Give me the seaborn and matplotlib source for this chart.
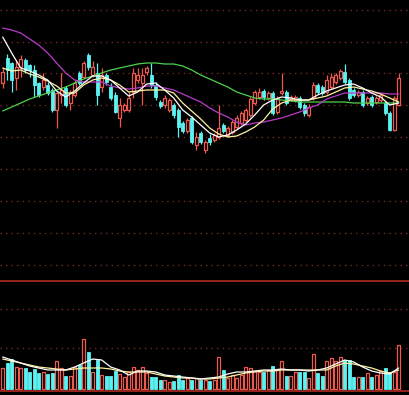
import numpy as np
import pandas as pd
import matplotlib
matplotlib.use("Agg")
import matplotlib.pyplot as plt
import seaborn as sns

# ---------------- data ----------------
opens = [21.7, 24.2, 23.7, 22.2, 23.3, 24.0, 23.5, 23.0, 21.7, 21.3,
         21.5, 21.0, 19.0, 20.5, 21.2, 19.7, 20.5, 22.7, 22.3, 24.5,
         22.5, 22.7, 21.3, 22.5, 21.3, 20.5, 18.2, 19.0, 19.0, 20.8,
         22.0, 21.7, 22.8, 22.5, 21.5, 19.8, 19.5, 19.0, 19.5, 19.0,
         17.7, 16.9, 18.2, 15.5, 16.7, 15.0, 16.2, 16.0, 16.3, 17.5,
         16.5, 16.8, 17.3, 17.7, 18.0, 18.5, 19.7, 20.3, 20.9, 20.2,
         20.7, 18.8, 20.7, 20.8, 20.1, 20.0, 20.2, 19.5, 18.5, 20.2,
         21.5, 21.3, 20.8, 21.3, 21.8, 22.2, 22.8, 22.0, 21.0, 20.5,
         20.8, 19.7, 20.3, 19.8, 20.0, 19.7, 18.7, 17.0, 19.5]
closes = [22.8, 23.0, 22.0, 23.3, 24.1, 23.0, 23.0, 21.5, 20.5, 22.0,
          20.7, 19.0, 20.7, 21.0, 19.5, 20.8, 21.7, 21.7, 23.7, 23.3,
          23.3, 20.5, 22.5, 21.8, 20.2, 18.8, 19.5, 19.5, 20.2, 22.7,
          22.5, 22.5, 23.2, 21.5, 20.3, 19.4, 20.2, 20.0, 18.5, 17.3,
          16.9, 18.0, 15.8, 16.3, 15.8, 15.8, 15.8, 16.5, 17.2, 16.9,
          17.2, 17.8, 18.2, 18.7, 19.0, 20.1, 20.8, 20.8, 20.3, 20.7,
          18.7, 20.2, 20.9, 19.7, 20.3, 20.3, 19.3, 18.7, 19.3, 21.5,
          20.8, 20.7, 22.0, 22.3, 22.5, 22.9, 21.8, 20.2, 20.5, 20.8,
          19.5, 20.2, 19.5, 20.2, 20.5, 18.7, 17.0, 20.2, 22.2]
highs = [23.2, 24.6, 23.8, 24.0, 24.5, 24.2, 23.6, 23.5, 21.8, 22.7,
         21.8, 21.2, 20.8, 22.7, 21.4, 21.0, 22.0, 22.9, 23.9, 24.7,
         23.9, 23.7, 23.2, 22.7, 21.7, 20.8, 20.2, 19.7, 20.8, 23.2,
         23.2, 23.2, 23.4, 23.7, 21.8, 20.0, 20.5, 20.2, 19.7, 19.2,
         17.9, 18.2, 18.4, 16.8, 16.9, 16.0, 16.6, 16.7, 19.5, 17.7,
         17.4, 18.0, 18.5, 18.9, 19.2, 20.3, 21.0, 21.2, 21.1, 20.9,
         20.9, 20.4, 22.7, 21.0, 20.5, 20.5, 20.4, 19.7, 19.6, 21.8,
         21.7, 21.5, 22.5, 22.7, 22.7, 23.1, 23.6, 22.2, 21.2, 21.0,
         21.0, 20.4, 20.5, 20.4, 20.7, 19.9, 18.9, 20.4, 22.7]
lows = [21.2, 22.0, 20.8, 21.0, 22.3, 22.7, 22.3, 20.3, 20.3, 21.0,
        20.5, 18.8, 17.2, 19.7, 19.3, 19.0, 20.3, 21.5, 22.2, 23.0,
        22.3, 19.5, 20.8, 21.5, 20.0, 18.7, 17.3, 18.8, 18.8, 20.2,
        21.7, 19.5, 22.5, 21.2, 20.0, 19.2, 19.2, 18.8, 18.2, 16.3,
        16.7, 16.7, 15.6, 15.0, 15.6, 14.7, 15.5, 15.8, 16.1, 16.7,
        16.3, 16.6, 17.1, 17.5, 17.8, 18.3, 19.5, 20.1, 20.0, 20.0,
        18.5, 18.6, 20.5, 19.5, 19.9, 19.8, 19.1, 18.4, 18.3, 20.0,
        20.6, 20.5, 20.6, 21.1, 21.6, 22.0, 21.6, 20.0, 20.3, 20.3,
        19.3, 19.5, 19.3, 19.6, 19.8, 18.5, 16.9, 16.9, 19.4]
volume = [21, 26, 30, 22, 21, 21, 17, 20, 16, 17,
          15, 16, 28, 21, 13, 13, 22, 24, 50, 37,
          17, 29, 14, 13, 13, 18, 15, 12, 17, 22,
          19, 22, 16, 12, 12, 9, 9, 7, 8, 14,
          9, 11, 9, 11, 9, 9, 8, 9, 32, 19,
          11, 14, 11, 14, 22, 21, 18, 17, 17, 19,
          23, 19, 28, 13, 13, 17, 17, 17, 11, 35,
          16, 13, 28, 31, 28, 32, 29, 29, 12, 12,
          12, 16, 12, 14, 18, 21, 17, 17, 44]

# moving-average lines, sampled every second session
ma_idx = list(range(0, 89, 2))
ma_white = [26.3, 24.7, 23.2, 22.9, 22.5, 22.0, 20.9, 20.3, 20.9, 21.7,
            22.4, 22.4, 22.0, 21.2, 20.4, 20.8, 21.6, 21.7, 21.0, 20.2,
            19.0, 18.3, 17.5, 16.7, 16.3, 16.5, 17.0, 17.6, 18.5, 19.5,
            20.0, 20.3, 20.2, 20.0, 20.0, 20.5, 20.9, 21.2, 21.5, 21.6,
            21.2, 20.7, 20.3, 19.5, 19.7]
ma_yellow = [23.2, 22.9, 23.0, 22.6, 22.3, 21.9, 21.4, 20.7, 20.7, 21.5,
             22.0, 22.2, 22.0, 21.5, 20.8, 20.9, 21.0, 21.0, 21.0, 20.7,
             19.7, 18.9, 18.1, 17.2, 16.6, 16.3, 16.4, 16.8, 17.3, 18.0,
             19.1, 19.7, 20.0, 20.0, 20.0, 20.2, 20.4, 20.8, 21.2, 21.3,
             21.1, 20.9, 20.6, 20.2, 19.8]
ma_magenta = [27.2, 27.0, 26.7, 26.1, 25.5, 24.7, 23.7, 22.7, 22.0, 21.8,
              21.8, 21.8, 21.4, 21.2, 21.1, 21.2, 21.4, 21.4, 21.2, 21.0,
              20.6, 20.2, 19.8, 19.2, 18.7, 18.3, 17.8, 17.5, 17.7, 17.8,
              18.0, 18.2, 18.5, 18.8, 19.2, 19.5, 20.1, 20.4, 20.7, 20.7,
              20.7, 20.7, 20.7, 20.6, 20.6]
ma_green = [18.9, 19.3, 19.7, 20.1, 20.4, 20.7, 21.0, 21.3, 21.7, 22.1,
            22.4, 22.7, 23.0, 23.2, 23.4, 23.6, 23.7, 23.7, 23.6, 23.6,
            23.4, 23.0, 22.5, 22.1, 21.7, 21.3, 20.8, 20.5, 20.2, 20.1,
            20.1, 20.0, 19.9, 19.8, 19.8, 19.8, 19.8, 19.8, 19.8, 19.7,
            19.7, 19.7, 19.7, 19.7, 19.7]
vol_ma_white = [32, 29, 26, 23, 21, 19, 19, 19, 22, 26,
                30, 29, 22, 19, 14, 18, 18, 17, 14, 13,
                12, 11, 10, 11, 12, 15, 17, 17, 18, 19,
                19, 20, 19, 19, 18, 19, 21, 25, 29, 27,
                22, 18, 16, 15, 21]
vol_ma_yellow = [30, 28, 26, 24, 22, 21, 20, 19, 20, 21,
                 21, 21, 20, 18, 17, 17, 17, 15, 13, 12,
                 11, 11, 10, 10, 11, 12, 14, 16, 17, 18,
                 18, 19, 19, 19, 19, 19, 19, 23, 26, 25,
                 23, 21, 18, 16, 19]

price_grid = [29.0, 25.8, 22.7, 19.5, 16.3, 13.1, 9.9, 6.7, 3.5]
vol_grid = [41, 80]

# ---------------- style ----------------
sns.set_style("dark", {"axes.facecolor": "black", "figure.facecolor": "black"})
RED = "#ee5a50"
CYAN = "#5cf2f2"
GRID = "#7a2620"
FRAME = "#b02a22"
MAGENTA = "#b83cc8"
GREEN = "#4cd24c"
PALE = "#fff2a0"

n = len(opens)
idx = np.arange(n)
df = pd.DataFrame({"i": idx, "open": opens, "close": closes,
                   "high": highs, "low": lows, "vol": volume})
df["up"] = df["close"] >= df["open"]
ma = pd.DataFrame({"i": ma_idx, "white": ma_white, "yellow": ma_yellow,
                   "magenta": ma_magenta, "green": ma_green,
                   "vw": vol_ma_white, "vy": vol_ma_yellow})

fig = plt.figure(figsize=(4.09, 3.95), dpi=100)
fig.patch.set_facecolor("black")
ax = fig.add_axes([0, 114 / 395, 1, 281 / 395])
axv = fig.add_axes([0, 4 / 395, 1, 110 / 395])

xlim = (-0.6, 90.3)
for a in (ax, axv):
    a.set_facecolor("black")
    a.set_xlim(*xlim)
    a.set_xticks([])
    a.set_yticks([])
    a.grid(False)
    for s in a.spines.values():
        s.set_visible(False)

ax.set_ylim(1.9, 30.0)
axv.set_ylim(-2, 108)

# dotted grids
for g in price_grid:
    ax.axhline(g, color=GRID, lw=1.0, ls=(0, (1, 3)), zorder=0)
for g in vol_grid:
    axv.axhline(g, color=GRID, lw=1.0, ls=(0, (1, 3)), zorder=0)

# frame lines
for side in ("top", "bottom"):
    axv.spines[side].set_visible(True)
    axv.spines[side].set_color(FRAME)
    axv.spines[side].set_linewidth(1.2)

# candles
up = df[df.up]
dn = df[~df.up]
ax.vlines(up.i, up.low, up.high, color=RED, lw=0.9, zorder=2)
ax.vlines(dn.i, dn.low, dn.high, color=CYAN, lw=0.9, zorder=2)
bw = 0.66
ax.bar(up.i, np.maximum((up.close - up.open).values, 0.08), bottom=up.open,
       width=bw, facecolor="black", edgecolor=RED, linewidth=0.9, zorder=3)
ax.bar(dn.i, np.maximum((dn.open - dn.close).values, 0.08), bottom=dn.close,
       width=bw, facecolor=CYAN, edgecolor=CYAN, linewidth=0.6, zorder=3)

# moving averages
sns.lineplot(data=ma, x="i", y="green", ax=ax, color=GREEN, lw=0.9, zorder=4)
sns.lineplot(data=ma, x="i", y="magenta", ax=ax, color=MAGENTA, lw=0.9, zorder=4)
sns.lineplot(data=ma, x="i", y="yellow", ax=ax, color=PALE, lw=0.9, zorder=5)
sns.lineplot(data=ma, x="i", y="white", ax=ax, color="#ffffff", lw=0.9, zorder=5)

# volume
axv.bar(up.i, up.vol, width=0.72, facecolor="black", edgecolor=RED,
        linewidth=0.9, zorder=2)
axv.bar(dn.i, dn.vol, width=0.72, facecolor=CYAN, edgecolor=CYAN,
        linewidth=0.6, zorder=2)
sns.lineplot(data=ma, x="i", y="vy", ax=axv, color=PALE, lw=0.9, zorder=4)
sns.lineplot(data=ma, x="i", y="vw", ax=axv, color="#ffffff", lw=0.9, zorder=4)

for a in (ax, axv):
    a.set_xlabel("")
    a.set_ylabel("")
    a.set_xlim(*xlim)

fig.savefig("out.png", dpi=100, facecolor="black")
